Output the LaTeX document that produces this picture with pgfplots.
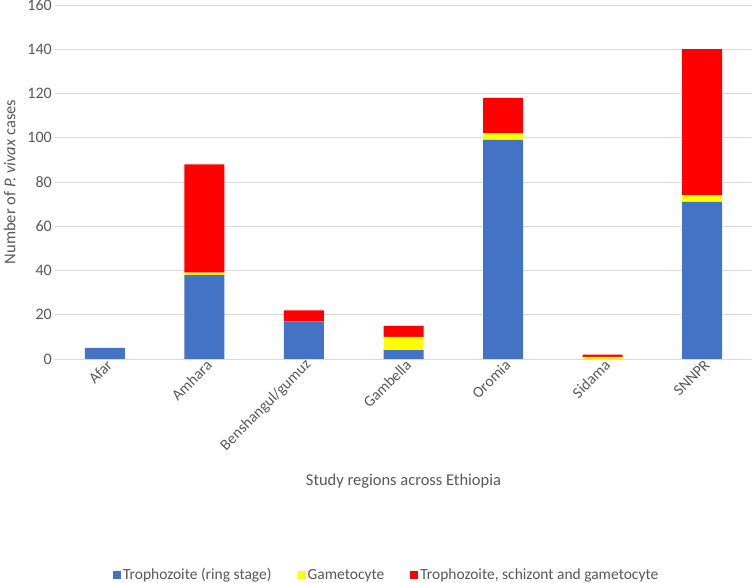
\documentclass[border=0pt]{standalone}
\usepackage{pgfplots}
\pgfplotsset{compat=1.18}
\usepackage{fontspec}
\setmainfont{Carlito}
\definecolor{txt}{HTML}{595959}
\definecolor{gridc}{HTML}{D9D9D9}
\definecolor{cblue}{HTML}{4472C4}
\definecolor{cyel}{HTML}{FFFF00}
\definecolor{cred}{HTML}{FF0000}
\begin{document}
\begin{tikzpicture}
\path[use as bounding box] (-55pt,-224pt) rectangle (698pt,359pt);
\begin{axis}[
  at={(0pt,0pt)}, anchor=south west,
  scale only axis, width=697pt, height=354pt,
  ybar stacked, bar width=40pt,
  xmin=-0.5, xmax=6.5, ymin=0, ymax=160,
  ytick={0,20,...,160},
  xtick={0,...,6},
  xticklabels={Afar,Amhara,Benshangul/gumuz,Gambella,Oromia,Sidama,SNNPR},
  xticklabel style={rotate=45, anchor=east, font=\fontsize{15.5}{17}\selectfont, text=txt, inner sep=1pt, yshift=-6pt, xshift=2pt},
  yticklabel style={font=\fontsize{16}{18}\selectfont, text=txt, inner sep=3pt},
  /pgf/number format/assume math mode=true,
  major tick length=0pt,
  ymajorgrids, grid style={gridc, line width=0.8pt},
  axis x line*=bottom, axis y line*=left,
  x axis line style={gridc, line width=0.8pt, -},
  y axis line style={draw=none},
  xlabel={Study regions across Ethiopia},
  xlabel style={at={(axis description cs:0.5,-0.345)}, anchor=center, font=\fontsize{16.5}{19}\selectfont, text=txt},
  ylabel={Number of \textit{P. vivax} cases},
  ylabel style={at={(axis description cs:-0.065,0.5)}, anchor=center, rotate=0, font=\fontsize{16.5}{19}\selectfont, text=txt},
  legend columns=3,
  legend style={at={(axis description cs:0.476,-0.61)}, anchor=center, draw=none, font=\fontsize{15.5}{17}\selectfont, text=txt, /tikz/every even column/.append style={column sep=24pt}},
  legend image code/.code={\fill[#1] (0pt,-4pt) rectangle (8pt,4pt);},
]
\addplot[fill=cblue, draw=none] coordinates {(0,5) (1,38) (2,17) (3,4) (4,99) (5,0) (6,71)};
\addplot[fill=cyel, draw=none] coordinates {(0,0) (1,1) (2,0) (3,6) (4,3) (5,1) (6,3)};
\addplot[fill=cred, draw=none] coordinates {(0,0) (1,49) (2,5) (3,5) (4,16) (5,1) (6,66)};
\legend{Trophozoite (ring stage), Gametocyte, {Trophozoite, schizont and gametocyte}}
\end{axis}
\end{tikzpicture}
\end{document}
